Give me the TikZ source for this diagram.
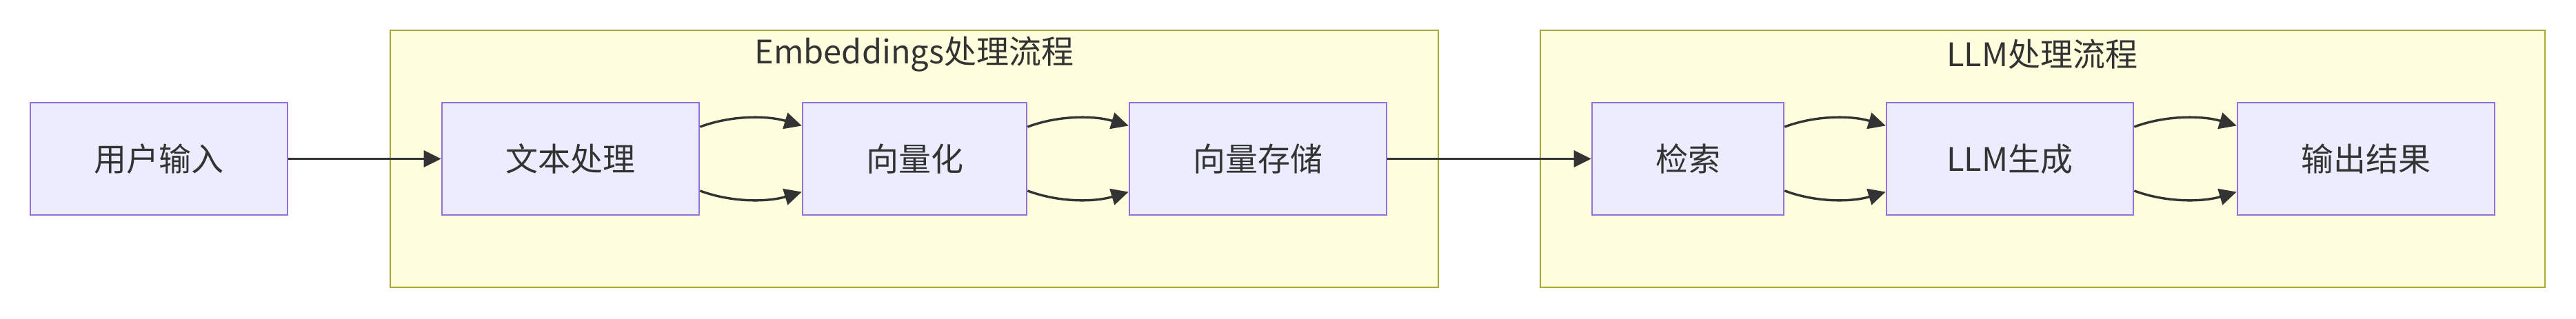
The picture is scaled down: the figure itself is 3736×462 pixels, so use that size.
\documentclass[tikz,border=0pt]{standalone}
\usepackage{fontspec}
\setmainfont{Noto Sans CJK SC}
\usetikzlibrary{arrows.meta,calc}
\definecolor{nodefill}{HTML}{ECECFF}
\definecolor{nodeline}{HTML}{9370DB}
\definecolor{clfill}{HTML}{FFFFDE}
\definecolor{clline}{HTML}{AAAA33}
\definecolor{ink}{HTML}{333333}
\tikzset{
  box/.style={draw=nodeline, fill=nodefill, line width=0.65pt, minimum height=40.75pt,
    inner sep=0pt, text=ink, font=\fontsize{11.75pt}{14pt}\selectfont},
  cluster/.style={draw=clline, fill=clfill, line width=0.7pt},
  cltitle/.style={text=ink, font=\fontsize{11.75pt}{14pt}\selectfont, inner sep=0pt},
  edge/.style={draw=ink, line width=0.85pt, -{Triangle[length=6.25pt,width=6pt]}},
}
\begin{document}
\begin{tikzpicture}[x=0.25pt,y=-0.25pt]
\useasboundingbox (0,0) rectangle (3736,462);
% clusters
\draw[cluster] (566,44) rectangle (2086,417);
\draw[cluster] (2234,44) rectangle (3691,417);
\node[cltitle] (t1) at (1326,79) {Embeddings处理流程};
\node[cltitle] (t2) at (2962,79) {LLM处理流程};
% nodes
\node[box, minimum width=93.25pt] (A) at (230.5,230.5) {用户输入};
\node[box, minimum width=93.25pt] (B) at (827.5,230.5) {文本处理};
\node[box, minimum width=81.25pt] (C) at (1326.5,230.5) {向量化};
\node[box, minimum width=93.25pt] (D) at (1824.5,230.5) {向量存储};
\node[box, minimum width=69.5pt] (E) at (2448,230.5) {检索};
\node[box, minimum width=89.5pt] (F) at (2915,230.5) {LLM生成};
\node[box, minimum width=93.25pt] (G) at (3431.5,230.5) {输出结果};
% straight edges
\draw[edge] (A.east) -- (B.west);
\draw[edge] (D.east) -- (E.west);
% double curved edges
\foreach \s/\t in {B/C, C/D, E/F, F/G}{
  \coordinate (u1) at ($(\s.north east)!0.22!(\s.south east)$);
  \coordinate (u2) at ($(\t.north west)!0.21!(\t.south west)$);
  \coordinate (l1) at ($(\s.north east)!0.78!(\s.south east)$);
  \coordinate (l2) at ($(\t.north west)!0.79!(\t.south west)$);
  \draw[edge] (u1) .. controls ($(u1)+(45,-17)$) and ($(u2)+(-50,-15)$) .. (u2);
  \draw[edge] (l1) .. controls ($(l1)+(45,17)$) and ($(l2)+(-50,15)$) .. (l2);
}
\end{tikzpicture}
\end{document}
